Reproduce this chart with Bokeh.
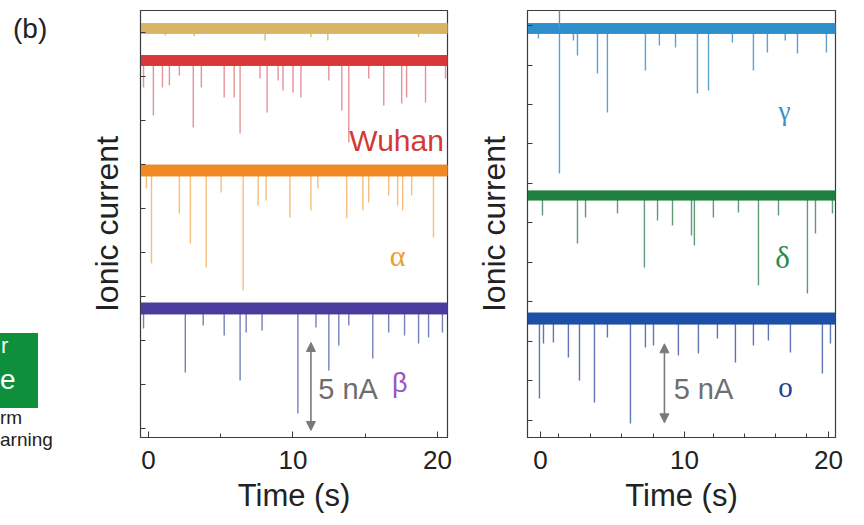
import numpy as np
from bokeh.plotting import figure
from bokeh.layouts import row
from bokeh.models import Range1d, FixedTicker, Label, Arrow, NormalHead, ColumnDataSource, Div
from bokeh.embed import file_html
from bokeh.resources import INLINE

# ------------------------------------------------------------------ data
time_ticks = [0, 10, 20]
time_tick_labels = ["0", "10", "20"]
left_minor_time_ticks = [5, 15]
right_minor_time_ticks = [1.25, 3.45, 5.65, 7.85, 12.0, 14.15, 16.3, 18.45]
current_ticks = [0, 2.5, 5, 7.5, 10, 12.5, 15, 17.5, 20, 22.5, 25]

# recording window (s)
left_window = [-0.55, 20.69]
right_window = [-0.9, 20.49]

# left panel: baseline (offset, nA) and noise half-width (nA)
left_traces = ["blank", "Wuhan", "α", "β"]
left_baseline = [22.74, 20.92, 14.67, 6.83]
left_noise = [0.28, 0.28, 0.31, 0.31]

# right panel
right_traces = ["γ", "δ", "ο"]
right_baseline = [24.81, 14.24, 6.45]
right_noise = [0.31, 0.29, 0.35]

# translocation events: time (s) and blockade amplitude (nA)
blank_t = [1.17, 3.17, 8.07, 11.24, 12.41, 18.69]
blank_amp = [0.40, 0.45, 0.68, 0.50, 0.68, 0.50]

wuhan_t = [-0.34, 0.34, 0.97, 1.45, 2.14, 3.10, 3.66, 5.24, 5.93, 6.34, 7.72, 8.21, 8.97,
           9.31, 10.0, 10.55, 12.48, 13.38, 13.86, 15.24, 16.28, 17.52, 17.86, 19.17, 20.55]
wuhan_amp = [1.53, 3.13, 1.53, 1.42, 0.85, 3.81, 1.53, 2.10, 2.10, 4.15, 1.02, 2.95, 1.14,
             1.70, 1.82, 2.10, 1.14, 2.84, 4.66, 1.02, 2.56, 2.44, 2.10, 2.39, 1.02]

alpha_t = [-0.14, 0.21, 2.14, 2.90, 4.0, 5.03, 6.55, 7.59, 8.14, 9.79, 11.24, 11.72, 13.72,
           14.83, 15.24, 16.62, 17.24, 17.59, 18.21, 19.72]
alpha_amp = [1.02, 5.28, 2.44, 4.15, 5.51, 1.25, 6.82, 1.99, 1.70, 2.67, 2.27, 1.02, 2.73,
             2.27, 1.82, 1.42, 1.99, 2.27, 1.42, 3.81]

beta_t = [-0.34, 2.55, 3.79, 5.24, 6.34, 6.76, 7.86, 10.34, 11.59, 12.48, 13.17, 13.86,
          15.52, 16.62, 17.72, 18.69, 19.38, 20.34]
beta_amp = [1.14, 3.64, 0.97, 1.53, 4.09, 1.36, 1.25, 5.97, 1.08, 3.52, 2.10, 0.97,
            2.84, 1.36, 1.53, 1.99, 1.65, 1.36]

gamma_t = [-0.14, 1.32, 2.29, 2.57, 3.96, 4.65, 7.29, 8.26, 9.38, 10.9, 11.67, 13.33,
           14.79, 15.76, 17.0, 17.85, 19.86]
gamma_amp = [0.63, 9.18, 0.76, 1.71, 2.85, 5.32, 2.66, 1.08, 1.20, 4.11, 3.92, 0.89,
             2.66, 1.52, 0.76, 1.58, 1.52]
gamma_up_t = [1.32]
gamma_up_amp = [1.2]

delta_t = [0.14, 2.57, 3.13, 5.35, 7.22, 8.13, 9.17, 10.49, 10.69, 12.01, 13.75, 15.14,
           16.53, 18.54, 19.1, 20.28]
delta_amp = [1.27, 3.04, 1.39, 1.14, 4.56, 1.58, 1.90, 2.53, 3.16, 1.39, 1.08, 5.70,
             1.27, 6.20, 2.41, 1.14]

omicron_t = [-0.07, 0.21, 0.9, 1.94, 2.71, 3.75, 4.65, 6.25, 7.29, 7.85, 9.58, 10.97,
             12.29, 13.54, 14.79, 15.83, 17.36, 19.58, 20.14]
omicron_amp = [5.06, 1.58, 1.52, 2.47, 3.92, 5.32, 1.20, 6.65, 1.84, 1.71, 2.34, 2.22,
               1.27, 2.78, 1.71, 1.39, 2.15, 3.48, 1.58]

scale_bar_nA = 5

# ------------------------------------------------------------------ styles
FONT = "Liberation Sans"
SERIF = "Liberation Serif"
band_colors_left = ["#D8B466", "#D8383A", "#F08A24", "#4A3C9C"]
spike_colors_left = ["#D8B466", "#E3868C", "#F3B870", "#6474B0"]
band_colors_right = ["#2F8FCB", "#1F8040", "#1E4FA6"]
spike_colors_right = ["#4A98CC", "#4F8F6A", "#4E66AE"]
GRAY = "#7A7A7A"
AXC = "#3A3A3A"


def make_panel(window, yr, border_left, border_right, width, minor_ticks):
    p = figure(width=width, height=525,
               x_range=Range1d(window[0], window[1]), y_range=Range1d(yr[0], yr[1]),
               output_backend="svg", toolbar_location=None,
               min_border_left=border_left, min_border_right=border_right,
               min_border_top=10, min_border_bottom=88)
    p.grid.visible = False
    p.outline_line_color = AXC
    p.outline_line_width = 1.2

    xa = p.xaxis[0]
    xa.ticker = FixedTicker(ticks=time_ticks, minor_ticks=minor_ticks)
    xa.major_label_overrides = {t: l for t, l in zip(time_ticks, time_tick_labels)}
    xa.major_tick_in = 6
    xa.major_tick_out = 0
    xa.minor_tick_in = 4
    xa.minor_tick_out = 0
    xa.axis_line_color = AXC
    xa.major_tick_line_color = AXC
    xa.minor_tick_line_color = AXC
    xa.major_label_text_font = FONT
    xa.major_label_text_font_size = "26px"
    xa.major_label_text_color = "#222222"
    xa.major_label_standoff = 13
    xa.axis_label = "Time (s)"
    xa.axis_label_text_font = FONT
    xa.axis_label_text_font_size = "31px"
    xa.axis_label_text_font_style = "normal"
    xa.axis_label_text_color = "#222222"
    xa.axis_label_standoff = 6

    ya = p.yaxis[0]
    # unlabeled current ticks: drawn as minor ticks so that no tick text is emitted
    ya.ticker = FixedTicker(ticks=[], minor_ticks=current_ticks)
    ya.minor_tick_in = 5
    ya.minor_tick_out = 0
    ya.major_tick_line_color = None
    ya.minor_tick_line_color = AXC
    ya.axis_line_color = AXC
    ya.major_label_standoff = 0
    ya.axis_label = "Ionic current"
    ya.axis_label_text_font = FONT
    ya.axis_label_text_font_size = "32px"
    ya.axis_label_text_font_style = "normal"
    ya.axis_label_text_color = "#222222"
    ya.axis_label_standoff = 16
    return p


def draw_trace(p, window, base, noise, t, amp, band_color, spike_color):
    src = ColumnDataSource(dict(t=t, y0=[base] * len(t),
                                y1=[base - a for a in amp]))
    p.segment(x0="t", y0="y0", x1="t", y1="y1", source=src,
              line_color=spike_color, line_width=1.4, line_alpha=0.9)
    p.quad(left=[window[0]], right=[window[1]], bottom=[base - noise], top=[base + noise],
           fill_color=band_color, line_color=band_color, line_width=1)


# ------------------------------------------------------------------ left decoration (cropped neighbour panel)
def span(text, left, top, size, lh, color):
    return (f'<div style="position:absolute;left:{left}px;top:{top}px;font-size:{size}px;'
            f'line-height:{lh}px;color:{color};white-space:nowrap;">{text}</div>')


deco_html = (
    '<div style="position:relative;width:85px;height:525px;overflow:hidden;'
    f"font-family:'{FONT}',Arial,sans-serif;background:white;\">"
    '<div style="position:absolute;left:0px;top:333px;width:38px;height:75px;background:#0E8F3C;"></div>'
    + span("(b)", 13, 15, 28, 28, "#222222")
    + span("r", 1, 336, 22, 20, "white")
    + span("e", 0, 367, 28, 26, "white")
    + span("rm", 0, 407, 19, 22, "#222222")
    + span("arning", 0, 429, 19, 22, "#222222")
    + '</div>'
)
deco = Div(text=deco_html, width=85, height=525, margin=(0, 0, 0, 0))

# ------------------------------------------------------------------ left panel
p1 = make_panel(left_window, (-0.5, 23.76), 54, 23, 385, left_minor_time_ticks)
left_events = [(blank_t, blank_amp), (wuhan_t, wuhan_amp), (alpha_t, alpha_amp), (beta_t, beta_amp)]
for i, (t, a) in enumerate(left_events):
    draw_trace(p1, left_window, left_baseline[i], left_noise[i], t, a,
               band_colors_left[i], spike_colors_left[i])

p1.add_layout(Label(x=17.17, y=16.4, text="Wuhan", text_font=FONT, text_font_size="30px",
                    text_color="#D23B35", text_align="center", text_baseline="middle"))
p1.add_layout(Label(x=17.24, y=9.85, text="α", text_font=SERIF, text_font_size="30px",
                    text_color="#E9A030", text_align="center", text_baseline="middle"))
p1.add_layout(Label(x=17.38, y=2.6, text="β", text_font=FONT, text_font_size="27px",
                    text_color="#9B55C0", text_align="center", text_baseline="middle"))
p1.add_layout(Label(x=11.75, y=2.28, text=f"{scale_bar_nA} nA", text_font=FONT,
                    text_font_size="29px", text_color="#6E6E6E", text_align="left",
                    text_baseline="middle"))
p1.add_layout(Arrow(start=NormalHead(size=9, fill_color=GRAY, line_color=GRAY),
                    end=NormalHead(size=9, fill_color=GRAY, line_color=GRAY),
                    x_start=11.24, y_start=-0.1, x_end=11.24, y_end=-0.1 + scale_bar_nA,
                    line_color=GRAY, line_width=1.6))

# ------------------------------------------------------------------ right panel
p2 = make_panel(right_window, (-1.08, 25.95), 57, 29, 394, right_minor_time_ticks)
right_events = [(gamma_t, gamma_amp), (delta_t, delta_amp), (omicron_t, omicron_amp)]
for i, (t, a) in enumerate(right_events):
    draw_trace(p2, right_window, right_baseline[i], right_noise[i], t, a,
               band_colors_right[i], spike_colors_right[i])
up_src = ColumnDataSource(dict(t=gamma_up_t, y0=[right_baseline[0]] * len(gamma_up_t),
                               y1=[right_baseline[0] + a for a in gamma_up_amp]))
p2.segment(x0="t", y0="y0", x1="t", y1="y1", source=up_src,
           line_color=spike_colors_right[0], line_width=1.4)

p2.add_layout(Label(x=16.94, y=19.6, text="γ", text_font=SERIF, text_font_size="27px",
                    text_color="#3C8FCB", text_align="center", text_baseline="middle"))
p2.add_layout(Label(x=16.81, y=10.3, text="δ", text_font=SERIF, text_font_size="31px",
                    text_color="#2A8A50", text_align="center", text_baseline="middle"))
p2.add_layout(Label(x=17.01, y=2.1, text="ο", text_font=SERIF, text_font_size="29px",
                    text_color="#24408F", text_align="center", text_baseline="middle"))
p2.add_layout(Label(x=9.25, y=1.96, text=f"{scale_bar_nA} nA", text_font=FONT,
                    text_font_size="29px", text_color="#6E6E6E", text_align="left",
                    text_baseline="middle"))
p2.add_layout(Arrow(start=NormalHead(size=9, fill_color=GRAY, line_color=GRAY),
                    end=NormalHead(size=9, fill_color=GRAY, line_color=GRAY),
                    x_start=8.61, y_start=-0.15, x_end=8.61, y_end=-0.15 + scale_bar_nA,
                    line_color=GRAY, line_width=1.6))

layout = row(deco, p1, p2)
open("out.html", "w").write(file_html(layout, INLINE))
